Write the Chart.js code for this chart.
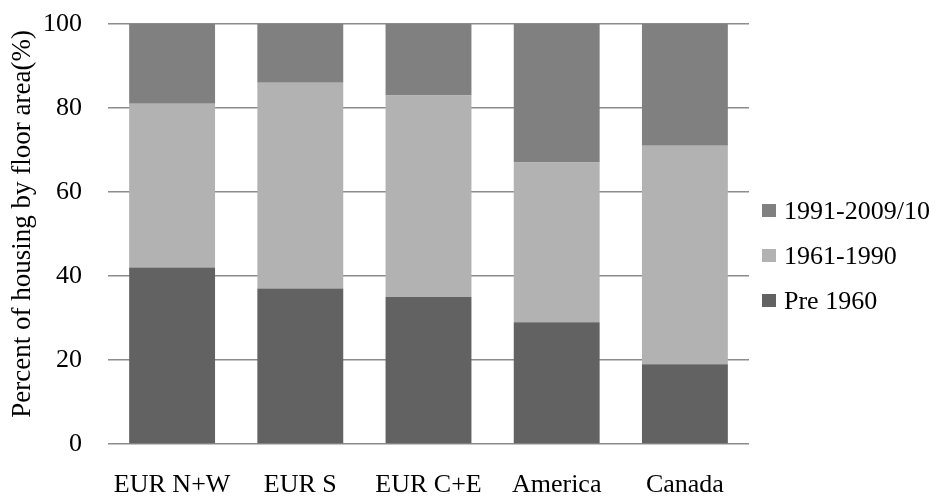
<!DOCTYPE html>
<html>
<head>
<meta charset="utf-8">
<script src="https://cdn.jsdelivr.net/npm/chart.js@4/dist/chart.umd.min.js"></script>
<style>
    html, body { margin: 0; padding: 0; background: #fff; }
    #wrap { position: relative; width: 939px; height: 496px; }
    #legend { position: absolute; left: 762px; top: 188px; font-family: 'Liberation Serif', 'Times New Roman', serif; font-size: 26px; color: #000; }
    #legend .item { display: flex; align-items: center; height: 45px; white-space: nowrap; }
    #legend .box { width: 14px; height: 13px; margin-right: 8px; }
</style>
</head>
<body>
<div id="wrap">
    <canvas id="housingChart" width="939" height="496"></canvas>
    <div id="legend"></div>
</div>
<script>
const regions = ['EUR N+W', 'EUR S', 'EUR C+E', 'America', 'Canada'];
const pre1960 = [42, 37, 35, 29, 19];
const from1961to1990 = [39, 49, 48, 38, 52];
const from1991to2010 = [19, 14, 17, 33, 29];
const yTicks = [0, 20, 40, 60, 80, 100];

const serif = "'Liberation Serif', 'Times New Roman', serif";

const chart = new Chart(document.getElementById('housingChart'), {
    type: 'bar',
    data: {
        labels: regions,
        datasets: [
            { label: 'Pre 1960', data: pre1960, backgroundColor: '#626262' },
            { label: '1961-1990', data: from1961to1990, backgroundColor: '#b2b2b2' },
            { label: '1991-2009/10', data: from1991to2010, backgroundColor: '#808080' }
        ]
    },
    options: {
        responsive: false,
        animation: false,
        layout: { padding: { left: 0, right: 190, top: 24, bottom: 0 } },
        datasets: { bar: { barPercentage: 0.67, categoryPercentage: 1 } },
        scales: {
            x: {
                stacked: true,
                grid: { display: false, drawTicks: false },
                border: { display: false },
                ticks: { color: '#000', padding: 26, maxRotation: 0, minRotation: 0, font: { family: serif, size: 26 } },
                // tick padding should only push the labels down, not shrink the plot sideways
                afterFit: axis => { axis.paddingLeft = 0; axis.paddingRight = 0; axis.height = 52; }
            },
            y: {
                stacked: true,
                min: 0, max: 100,
                afterBuildTicks: axis => { axis.ticks = yTicks.map(v => ({ value: v })); },
                grid: { color: '#8c8c8c', lineWidth: 1.5, drawTicks: false },
                border: { display: false },
                ticks: { color: '#000', padding: 26, font: { family: serif, size: 26 } },
                title: {
                    display: true,
                    // leading spaces nudge the title up a little, as in the original
                    text: '   Percent of housing by floor area(%)',
                    color: '#000',
                    font: { family: serif, size: 27 },
                    padding: { top: 7, bottom: 0 }
                },
                afterFit: axis => { axis.paddingTop = 0; axis.paddingBottom = 0; axis.width = 108; }
            }
        },
        plugins: {
            legend: { display: false },
            tooltip: { enabled: false }
        }
    }
});

// legend on the right, newest period first like the original
const legendEl = document.getElementById('legend');
chart.data.datasets.slice().reverse().forEach(ds => {
    const row = document.createElement('div');
    row.className = 'item';
    row.innerHTML = `<span class="box" style="background:${ds.backgroundColor}"></span><span>${ds.label}</span>`;
    legendEl.appendChild(row);
});
</script>
</body>
</html>
